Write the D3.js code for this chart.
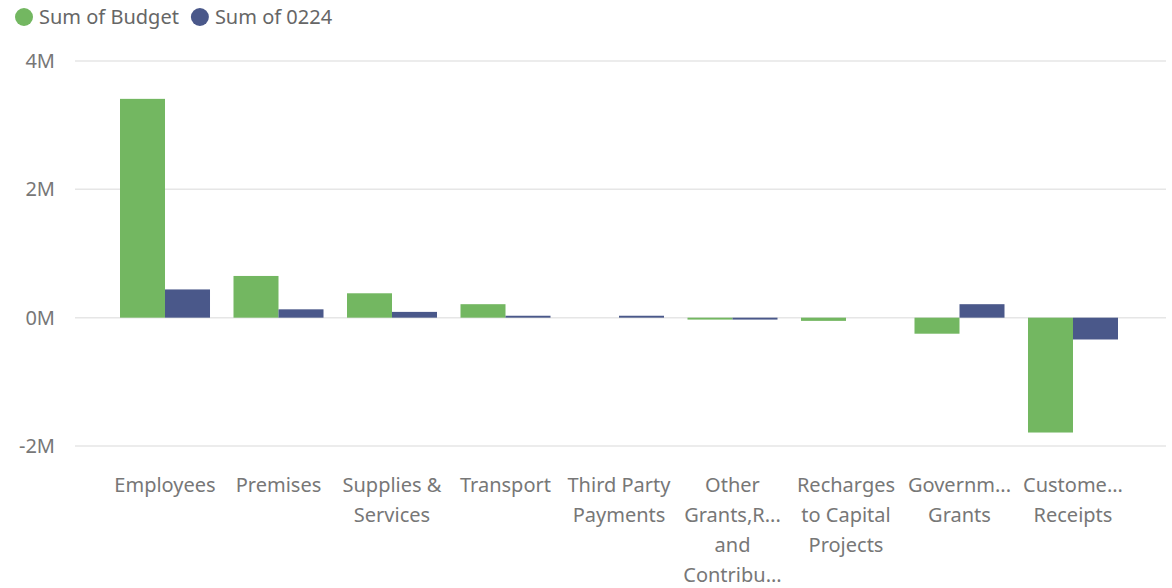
<!DOCTYPE html>
<html><head><meta charset="utf-8">
<script src="https://cdn.jsdelivr.net/npm/d3@7"></script>
<style>
body{margin:0;background:#fff;}
svg{display:block;font-family:"Segoe UI","Noto Sans",sans-serif;}
</style></head><body>
<svg id="chart" width="1172" height="588"></svg>
<script>
const categories = ["Employees","Premises","Supplies & Services","Transport","Third Party Payments","Other Grants,Reimbursements and Contributions","Recharges to Capital Projects","Government Grants","Customer Receipts"];
const categoryLines = [["Employees"],["Premises"],["Supplies &","Services"],["Transport"],["Third Party","Payments"],["Other","Grants,R...","and","Contribu..."],["Recharges","to Capital","Projects"],["Governm...","Grants"],["Custome...","Receipts"]];
const seriesNames = ["Sum of Budget","Sum of 0224"];
const budget = [3410000, 650000, 380000, 210000, 0, -30000, -50000, -250000, -1790000];
const val0224 = [440000, 130000, 90000, 30000, 30000, -30000, 0, 210000, -340000];
const yTicks = [-2000000, 0, 2000000, 4000000];
const yTickLabels = ["-2M","0M","2M","4M"];
const colors = ["#73B761","#4A588A"];

const svg = d3.select("#chart");
const y = d3.scaleLinear().domain([-2000000, 4000000]).range([446, 61]);
const x = d3.scaleBand().domain(categories).range([120, 1118]).paddingInner(0.207).paddingOuter(0);
const x1 = d3.scaleBand().domain(seriesNames).range([0, x.bandwidth()]);

// gridlines
svg.append("g").selectAll("line").data(yTicks).join("line")
  .attr("x1", 75).attr("x2", 1166)
  .attr("y1", d => y(d)).attr("y2", d => y(d))
  .attr("stroke", "#e6e6e6").attr("stroke-width", 1.5);

// y labels
svg.append("g").selectAll("text").data(yTicks).join("text")
  .attr("x", 55).attr("y", d => y(d)).attr("dy", "0.35em")
  .attr("text-anchor", "end").attr("fill", "#777").attr("font-size", 20)
  .text((d, i) => yTickLabels[i]);

// bars
const data = categories.map((c, i) => ({c, vals: [budget[i], val0224[i]]}));
const groups = svg.append("g").selectAll("g").data(data).join("g")
  .attr("transform", d => `translate(${x(d.c)},0)`);
groups.selectAll("rect").data(d => d.vals.map((v, j) => ({v, s: seriesNames[j], j})))
  .join("rect")
  .attr("x", d => x1(d.s)).attr("width", x1.bandwidth())
  .attr("y", d => Math.min(y(d.v), y(0)))
  .attr("height", d => Math.abs(y(d.v) - y(0)))
  .attr("fill", d => colors[d.j]);

// x labels
const xl = svg.append("g").selectAll("text").data(categories).join("text")
  .attr("x", d => x(d) + x.bandwidth() / 2)
  .attr("y", 492)
  .attr("text-anchor", "middle").attr("fill", "#777").attr("font-size", 20);
xl.each(function(d, i) {
  d3.select(this).selectAll("tspan").data(categoryLines[i]).join("tspan")
    .attr("x", x(d) + x.bandwidth() / 2)
    .attr("dy", (t, k) => k === 0 ? 0 : 30)
    .text(t => t);
});

// legend
const leg = svg.append("g");
let lx = 24;
seriesNames.forEach((n, i) => {
  leg.append("circle").attr("cx", lx).attr("cy", 17).attr("r", 9).attr("fill", colors[i]);
  const t = leg.append("text").attr("x", lx + 15).attr("y", 17).attr("dy", "0.35em")
    .attr("fill", "#666").attr("font-size", 20).text(n);
  lx = lx + 15 + t.node().getComputedTextLength() + 21;
});
</script>
</body></html>
